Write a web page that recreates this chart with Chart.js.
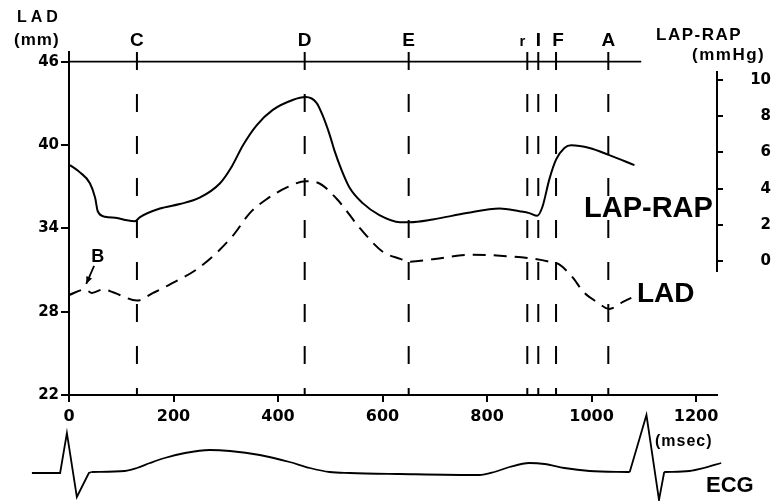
<!DOCTYPE html>
<html>
<head>
<meta charset="utf-8">
<script src="https://cdn.jsdelivr.net/npm/chart.js@4.4.1/dist/chart.umd.min.js"></script>
<style>
  html, body { margin: 0; padding: 0; background: #fff; }
</style>
</head>
<body>
<canvas id="chart" width="771" height="501"></canvas>
<script>
const ctx = document.getElementById("chart").getContext("2d");

// time (msec) and values
const lapMs = [2, 21, 40, 50, 55, 69, 92, 111, 126, 136, 174, 212, 250, 289, 311, 333, 359, 390, 428, 453, 474, 485, 499, 508, 522, 537, 562, 594, 633, 652, 696, 761, 824, 862, 881, 896, 906, 919, 932, 948, 961, 996, 1034, 1082];
const lapRap = [5.3, 4.9, 4.3, 3.5, 2.75, 2.45, 2.38, 2.25, 2.2, 2.43, 2.9, 3.15, 3.5, 4.3, 5.2, 6.4, 7.5, 8.35, 8.9, 9.06, 8.73, 8.07, 6.96, 6.1, 5.0, 4.05, 3.2, 2.54, 2.15, 2.15, 2.3, 2.65, 2.9, 2.75, 2.65, 2.5, 3.0, 4.5, 5.6, 6.25, 6.4, 6.25, 5.85, 5.3];

const ladMs = [0, 31, 44, 65, 84, 97, 130, 161, 190, 250, 312, 346, 378, 420, 453, 475, 513, 557, 601, 634, 650, 700, 772, 837, 881, 919, 938, 963, 985, 1010, 1034, 1060, 1076];
const ladMm = [29.2, 29.6, 29.35, 29.6, 29.4, 29.2, 28.8, 29.35, 29.9, 31.2, 33.4, 35.1, 36.1, 37.0, 37.4, 37.3, 36.1, 34.0, 32.3, 31.8, 31.6, 31.8, 32.1, 32.0, 31.85, 31.6, 31.4, 30.5, 29.4, 28.7, 28.2, 28.7, 29.0];

const ecgMs = [-71, -17, -4, 15, 38, 43, 107, 130, 155, 183, 222, 269, 308, 365, 422, 461, 499, 537, 633, 785, 814, 843, 881, 910, 948, 996, 1073, 1105, 1129, 1139, 1187, 1215, 1248];
const ecgMv = [-0.1, -0.1, 3.9, -2.5, -0.1, 0, 0.1, 0.4, 0.9, 1.4, 1.9, 2.2, 2.1, 1.7, 1.0, 0.4, 0, -0.1, -0.2, -0.3, 0, 0.5, 0.9, 0.8, 0.4, 0.1, 0, 5.7, -2.8, 0, 0.1, 0.4, 0.9];

const markerMs = [130, 451, 650, 877, 898, 932, 1032];
const markerLabels = ["C", "D", "E", "r", "I", "F", "A"];

const timeTicks = [0, 200, 400, 600, 800, 1000, 1200];
const ladTicks = [22, 28, 34, 40, 46];
const lapTicks = [0, 2, 4, 6, 8, 10];
const refLineMs = [0, 1095];

const FONT = '"Liberation Sans", Arial, sans-serif';
const TICK_FONT = '"DejaVu Sans", sans-serif';

const toPoints = (xs, ys) => xs.map((t, i) => ({ x: t, y: ys[i] }));
const ecgPoints = toPoints(ecgMs, ecgMv);

const markerSets = markerMs.map((m) => ({
  data: [{ x: m, y: 46.7 }, { x: m, y: 22 }],
  yAxisID: "y",
  borderColor: "#000",
  borderWidth: 2,
  borderDash: [18, 24],
  pointRadius: 0,
}));

// QRS parts straight, waves smooth
const ecgSet = (pts, smooth) => ({
  data: pts,
  yAxisID: "yE",
  borderColor: "#000",
  borderWidth: 1.8,
  pointRadius: 0,
  tension: 0,
  cubicInterpolationMode: smooth ? "monotone" : "default",
  clip: false,
});

const overlay = {
  id: "overlay",
  afterDatasetsDraw(chart) {
    const { ctx, scales } = chart;
    const { x, y, y2 } = scales;
    ctx.save();
    ctx.fillStyle = "#000";
    ctx.strokeStyle = "#000";

    // right axis line, only over its own range
    ctx.lineWidth = 2;
    ctx.beginPath();
    ctx.moveTo(y2.left, y2.getPixelForValue(10.5));
    ctx.lineTo(y2.left, y2.getPixelForValue(-0.6));
    ctx.stroke();

    // phase letters
    ctx.textAlign = "center";
    ctx.textBaseline = "alphabetic";
    markerMs.forEach((m, i) => {
      const lbl = markerLabels[i];
      ctx.font = (lbl === "r" ? "bold 15px " : "bold 19px ") + FONT;
      const shift = lbl === "r" ? -5 : lbl === "F" ? 2 : 0;
      ctx.fillText(lbl, x.getPixelForValue(m) + shift, 46);
    });

    // axis titles
    ctx.textAlign = "left";
    ctx.font = "bold 16px " + FONT;
    ctx.letterSpacing = "4px";
    ctx.fillText("LAD", 17, 22);
    ctx.letterSpacing = "1px";
    ctx.font = "bold 17px " + FONT;
    ctx.fillText("(mm)", 14, 45);
    ctx.letterSpacing = "1.5px";
    ctx.fillText("LAP-RAP", 656, 40);
    ctx.fillText("(mmHg)", 692, 60);
    ctx.letterSpacing = "1px";
    ctx.font = "bold 16px " + FONT;
    ctx.fillText("(msec)", 655, 446);
    ctx.letterSpacing = "0px";
    ctx.font = "bold 22px " + FONT;
    ctx.fillText("ECG", 706, 492);

    // curve names
    ctx.font = "bold 29px " + FONT;
    ctx.fillText("LAP-RAP", 584, 217);
    ctx.font = "bold 28px " + FONT;
    ctx.fillText("LAD", 637, 302);

    // B with arrow to the LAD trace
    ctx.font = "bold 18px " + FONT;
    ctx.textAlign = "center";
    ctx.fillText("B", x.getPixelForValue(55), y.getPixelForValue(31.6));
    const x0 = x.getPixelForValue(48), y0 = y.getPixelForValue(31.3);
    const x1 = x.getPixelForValue(33), y1 = y.getPixelForValue(30.0);
    ctx.lineWidth = 1.8;
    ctx.beginPath();
    ctx.moveTo(x0, y0);
    ctx.lineTo(x1, y1);
    ctx.stroke();
    const ang = Math.atan2(y1 - y0, x1 - x0);
    ctx.beginPath();
    ctx.moveTo(x1, y1);
    ctx.lineTo(x1 - 8 * Math.cos(ang - 0.4), y1 - 8 * Math.sin(ang - 0.4));
    ctx.lineTo(x1 - 8 * Math.cos(ang + 0.4), y1 - 8 * Math.sin(ang + 0.4));
    ctx.closePath();
    ctx.fill();
    ctx.restore();
  },
};

new Chart(ctx, {
  type: "line",
  data: {
    datasets: [
      {
        data: toPoints(lapMs, lapRap),
        yAxisID: "y2",
        borderColor: "#000",
        borderWidth: 2,
        pointRadius: 0,
        cubicInterpolationMode: "monotone",
      },
      {
        data: toPoints(ladMs, ladMm),
        yAxisID: "y",
        borderColor: "#000",
        borderWidth: 2,
        borderDash: [13, 8],
        pointRadius: 0,
        cubicInterpolationMode: "monotone",
      },
      {
        data: refLineMs.map((t) => ({ x: t, y: 46 })),
        yAxisID: "y",
        borderColor: "#000",
        borderWidth: 1.8,
        pointRadius: 0,
      },
      ...markerSets,
      ecgSet(ecgPoints.slice(0, 6), false),
      ecgSet(ecgPoints.slice(5, 27), true),
      ecgSet(ecgPoints.slice(26, 30), false),
      ecgSet(ecgPoints.slice(29), true),
    ],
  },
  options: {
    responsive: false,
    animation: false,
    devicePixelRatio: 1,
    layout: { padding: { top: 52, left: 0, right: 0, bottom: 0 } },
    plugins: {
      legend: { display: false },
      tooltip: { enabled: false },
    },
    scales: {
      x: {
        type: "linear",
        bounds: "data",
        afterDataLimits: (s) => { s.min = 0; s.max = 1240; },
        afterBuildTicks: (s) => { s.ticks = timeTicks.map((v) => ({ value: v })); },
        afterFit: (s) => { s.height = 106; },
        border: { color: "#000", width: 2 },
        grid: { drawOnChartArea: false, drawTicks: true, tickLength: 7, color: "#000", lineWidth: 2 },
        ticks: {
          color: "#000",
          font: { family: TICK_FONT, size: 16, weight: "bold" },
          padding: 5,
          maxRotation: 0,
          callback: (v) => String(v),
        },
      },
      y: {
        position: "left",
        min: 22,
        max: 46.7,
        afterBuildTicks: (s) => { s.ticks = ladTicks.map((v) => ({ value: v })); },
        afterFit: (s) => { s.width = 69; },
        border: { color: "#000", width: 2 },
        grid: { drawOnChartArea: false, drawTicks: true, tickLength: 8, color: "#000", lineWidth: 2 },
        ticks: { color: "#000", font: { family: TICK_FONT, size: 15, weight: "bold" }, padding: 2 },
      },
      y2: {
        position: "right",
        min: -7.4,
        max: 11.55,
        afterBuildTicks: (s) => { s.ticks = lapTicks.map((v) => ({ value: v })); },
        afterFit: (s) => { s.width = 54; },
        border: { display: false },
        grid: { drawOnChartArea: false, drawTicks: true, tickLength: 6, color: "#000", lineWidth: 2 },
        ticks: { color: "#000", font: { family: TICK_FONT, size: 15, weight: "bold" }, padding: 3, crossAlign: "far" },
      },
      yE: {
        display: false,
        min: 7.7,
        max: 42,
      },
    },
  },
  plugins: [overlay],
});
</script>
</body>
</html>
